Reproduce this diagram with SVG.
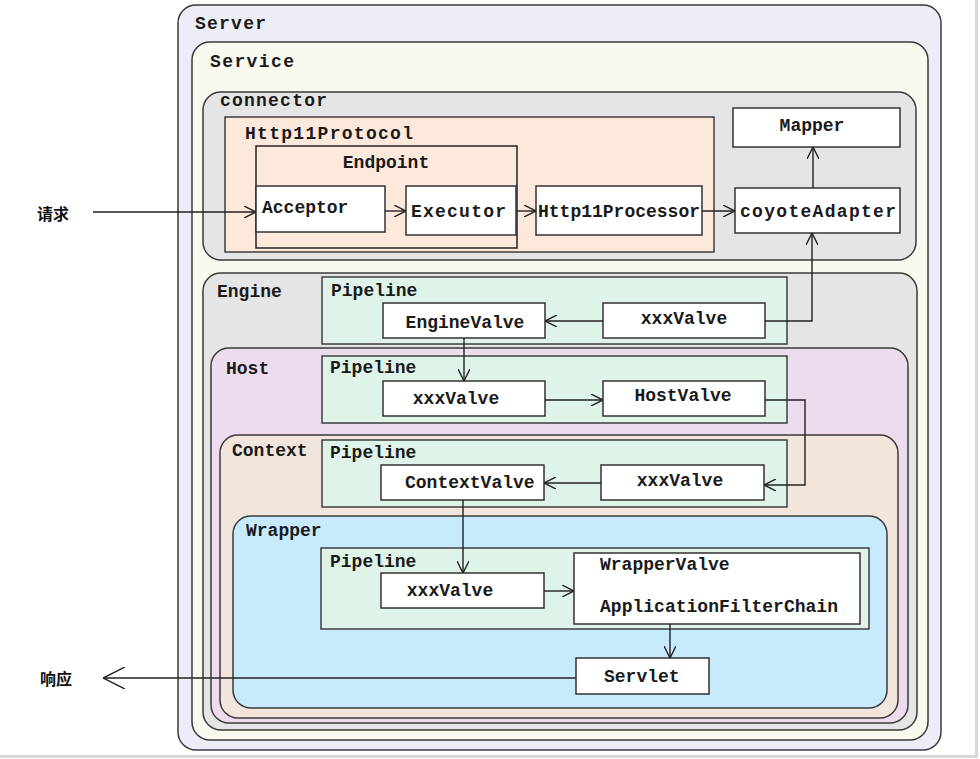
<svg xmlns="http://www.w3.org/2000/svg" width="980" height="759" viewBox="0 0 980 759">
<defs>
<style>
.t{font-family:"Liberation Mono","Courier New",monospace;font-weight:bold;font-size:18px;fill:#1a1a1a}
.cn{font-family:"Noto Sans CJK SC",sans-serif;font-weight:bold;font-size:16px;fill:#111}
.c{stroke:#3a3a3a;stroke-width:1.5}
.b{fill:#fff;stroke:#333;stroke-width:1.5}
.p{fill:#dff3e9;stroke:#333;stroke-width:1.4}
.w{fill:none;stroke:#222;stroke-width:1.4}
</style>
<marker id="a" viewBox="0 0 12 12" refX="12" refY="6" markerWidth="12" markerHeight="12" markerUnits="userSpaceOnUse" orient="auto"><path d="M0,0 L12,6 L0,12" fill="none" stroke="#222" stroke-width="1.4"/></marker>
<marker id="a2" viewBox="0 0 22 22" refX="22" refY="11" markerWidth="22" markerHeight="22" markerUnits="userSpaceOnUse" orient="auto"><path d="M0,0 L22,11 L0,22" fill="none" stroke="#222" stroke-width="1.4"/></marker>
</defs>
<rect width="980" height="759" fill="#fff"/>
<path d="M0,756.5 H976.5 V0" fill="none" stroke="#d8d8d8" stroke-width="3"/>

<g id="server"><rect class="c" x="178" y="5" width="763" height="745" rx="18" fill="#ededf7"/><text class="t" x="195" y="29" textLength="71">Server</text></g>
<g id="service"><rect class="c" x="192" y="42" width="736" height="698" rx="18" fill="#f9f9ef"/><text class="t" x="210" y="67" textLength="84">Service</text></g>
<g id="connector"><rect class="c" x="203" y="92" width="713" height="168" rx="18" fill="#e5e5e5"/><text class="t" x="220" y="106" textLength="107">connector</text></g>
<g id="http11protocol"><rect x="225" y="117" width="489" height="135" fill="#fde8dc" stroke="#333" stroke-width="1.4"/><text class="t" x="245" y="139" textLength="168">Http11Protocol</text></g>
<g id="endpoint"><rect x="256" y="146" width="261" height="102" fill="#fde8dc" stroke="#222" stroke-width="1.5"/><text class="t" x="386" y="168" text-anchor="middle">Endpoint</text></g>
<g id="acceptor"><rect class="b" x="256" y="186" width="129" height="46"/><text class="t" x="262" y="213">Acceptor</text></g>
<g id="executor"><rect class="b" x="406" y="186" width="110" height="49"/><text class="t" x="411" y="217" textLength="95">Executor</text></g>
<g id="http11processor"><rect class="b" x="536" y="186" width="166" height="49"/><text class="t" x="538" y="217" textLength="162">Http11Processor</text></g>
<g id="coyoteadapter"><rect class="b" x="735" y="188" width="165" height="45"/><text class="t" x="740" y="217" textLength="156">coyoteAdapter</text></g>
<g id="mapper"><rect class="b" x="733" y="108" width="167" height="39"/><text class="t" x="812" y="131" text-anchor="middle">Mapper</text></g>

<g id="engine"><rect class="c" x="203" y="273" width="714" height="457" rx="18" fill="#e5e5e5"/><text class="t" x="217" y="297">Engine</text></g>
<g id="engine-pipeline"><rect class="p" x="322" y="277" width="465" height="67"/><text class="t" x="331" y="296">Pipeline</text></g>
<g id="enginevalve"><rect class="b" x="383" y="303" width="162" height="35"/><text class="t" x="465" y="328" text-anchor="middle">EngineValve</text></g>
<g id="engine-xxxvalve"><rect class="b" x="603" y="303" width="162" height="35"/><text class="t" x="684" y="324" text-anchor="middle">xxxValve</text></g>

<g id="host"><rect class="c" x="211" y="348" width="697" height="375" rx="18" fill="#ecdcee"/><text class="t" x="226" y="374">Host</text></g>
<g id="host-pipeline"><rect class="p" x="322" y="356" width="465" height="67"/><text class="t" x="330" y="373">Pipeline</text></g>
<g id="host-xxxvalve"><rect class="b" x="383" y="381" width="162" height="35"/><text class="t" x="456" y="404" text-anchor="middle">xxxValve</text></g>
<g id="hostvalve"><rect class="b" x="603" y="381" width="162" height="35"/><text class="t" x="683" y="401" text-anchor="middle">HostValve</text></g>

<g id="context"><rect class="c" x="220" y="435" width="678" height="283" rx="18" fill="#f2e5db"/><text class="t" x="232" y="456">Context</text></g>
<g id="context-pipeline"><rect class="p" x="322" y="440" width="465" height="67"/><text class="t" x="330" y="458">Pipeline</text></g>
<g id="contextvalve"><rect class="b" x="381" y="465" width="163" height="35"/><text class="t" x="405" y="488">ContextValve</text></g>
<g id="context-xxxvalve"><rect class="b" x="601" y="465" width="163" height="35"/><text class="t" x="680" y="486" text-anchor="middle">xxxValve</text></g>

<g id="wrapper"><rect class="c" x="233" y="516" width="654" height="192" rx="18" fill="#c7eafc"/><text class="t" x="246" y="536">Wrapper</text></g>
<g id="wrapper-pipeline"><rect class="p" x="321" y="548" width="548" height="81"/><text class="t" x="330" y="567">Pipeline</text></g>
<g id="wrapper-xxxvalve"><rect class="b" x="381" y="573" width="163" height="35"/><text class="t" x="450" y="596" text-anchor="middle">xxxValve</text></g>
<g id="wrappervalve"><rect class="b" x="574" y="553" width="286" height="71"/><text class="t" x="600" y="570">WrapperValve</text><text class="t" x="600" y="612" textLength="238">ApplicationFilterChain</text></g>
<g id="servlet"><rect class="b" x="576" y="658" width="133" height="36"/><text class="t" x="604" y="682">Servlet</text></g>

<g id="request"><text class="cn" x="37" y="220">请求</text></g>
<g id="response"><text class="cn" x="40" y="685">响应</text></g>

<g id="connectors" class="w">
<path d="M93,212 H256" marker-end="url(#a)"/>
<path d="M385,211 H406" marker-end="url(#a)"/>
<path d="M516,211 H536" marker-end="url(#a)"/>
<path d="M702,211 H735" marker-end="url(#a)"/>
<path d="M813,188 V147" marker-end="url(#a)"/>
<path d="M765,321 H812 V233" marker-end="url(#a)"/>
<path d="M603,321 H545" marker-end="url(#a)"/>
<path d="M464,338 V381" marker-end="url(#a)"/>
<path d="M545,400 H603" marker-end="url(#a)"/>
<path d="M765,400 H805 V485 H764" marker-end="url(#a)"/>
<path d="M601,483 H544" marker-end="url(#a)"/>
<path d="M463,500 V573" marker-end="url(#a)"/>
<path d="M544,591 H574" marker-end="url(#a)"/>
<path d="M670,624 V658" marker-end="url(#a)"/>
<path d="M576,678 H103" marker-end="url(#a2)"/>
</g>
</svg>
